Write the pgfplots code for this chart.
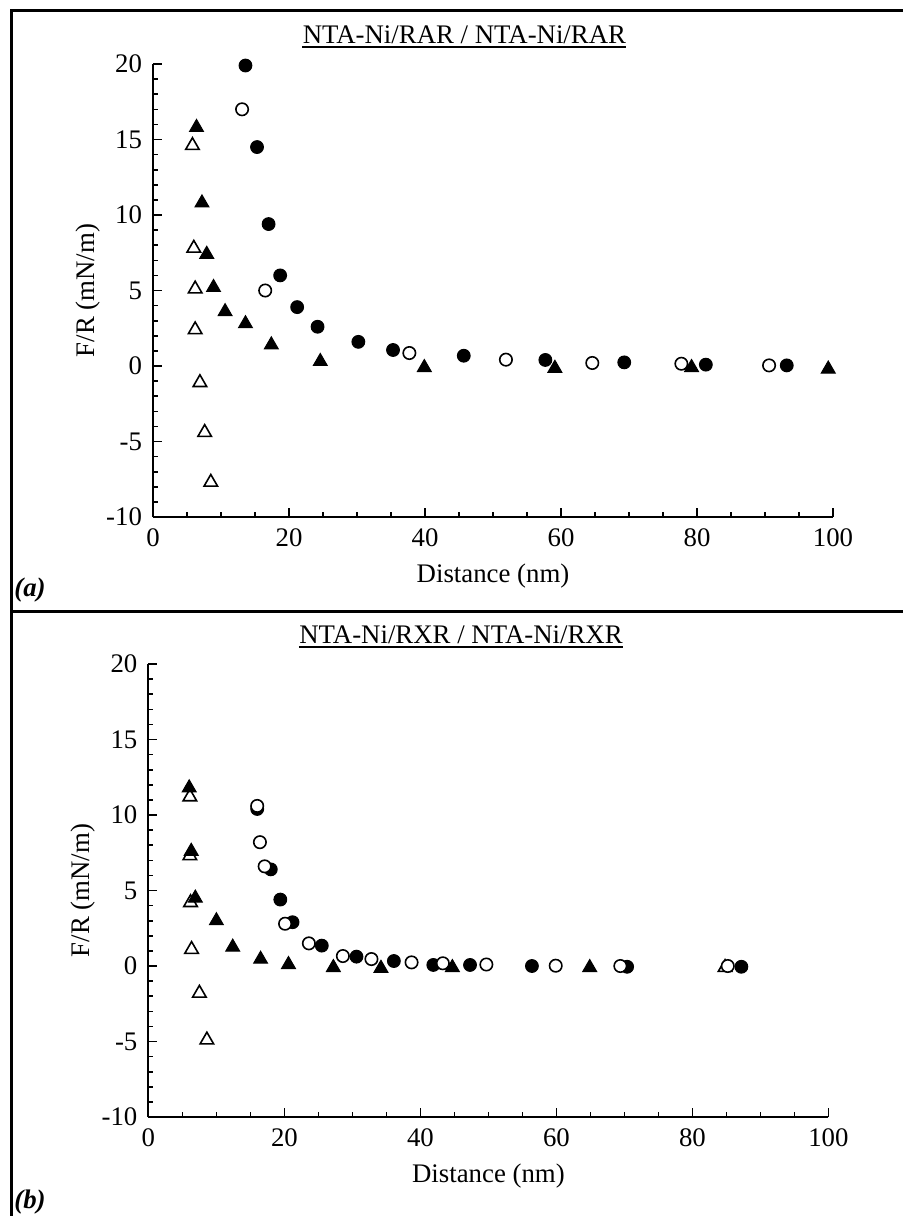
\documentclass[border=0pt]{standalone}
\usepackage{pgfplots}
\pgfplotsset{compat=1.18}
\usepackage{fontspec}
\setmainfont{Liberation Serif}
\newcommand{\ff}{\fontsize{13.4bp}{16bp}\selectfont}
\pgfplotsset{
  panel/.style={
    width=340bp, height=226.5bp, scale only axis,
    xmin=0, xmax=100, ymin=-10, ymax=20,
    axis lines*=left,
    xtick={0,20,40,60,80,100}, xticklabels={0,20,40,60,80,100},
    ytick={-10,-5,0,5,10,15,20}, yticklabels={-10,-5,0,5,10,15,20},
    minor x tick num=3, minor y tick num=4,
    tick align=inside,
    major tick length=4.5bp, minor tick length=2.5bp,
    axis line style={line width=1bp, black},
    every tick/.style={line width=0.8bp, black},
    tick label style={font=\ff},
    xticklabel style={yshift=-2.5bp},
    yticklabel style={xshift=-2bp},
    label style={font=\ff},
    xlabel={Distance (nm)},
    ylabel={F/R (mN/m)},
    xlabel style={at={(axis description cs:0.5,-0.13)}, anchor=center},
    ylabel style={at={(axis description cs:-0.0956,0.5)}, anchor=center},
    clip=false,
  },
  fc/.style={only marks, mark=*, mark size=3.2bp, mark options={fill=black, draw=black, line width=0.5bp}},
  oc/.style={only marks, mark=*, mark size=3.1bp, mark options={fill=white, draw=black, line width=0.8bp}},
  ft/.style={only marks, mark=triangle*, mark size=4bp, mark options={fill=black, draw=black, line width=0.5bp}},
  ot/.style={only marks, mark=triangle*, mark size=3.9bp, mark options={fill=white, draw=black, line width=0.8bp}},
}
\begin{document}
\begin{tikzpicture}
\path[use as bounding box] (0,0) rectangle (451.5bp,-608bp);
% frames
\draw[line width=1.5bp] (451.5bp,-5bp) -- (5.5bp,-5bp) -- (5.5bp,-608bp);
\draw[line width=1.5bp] (5.5bp,-305.5bp) -- (451.5bp,-305.5bp);
% titles
\node[inner sep=0, anchor=base, font=\ff] (ta) at (232.2bp,-21.5bp) {NTA-Ni/RAR / NTA-Ni/RAR};
\draw[line width=1.1bp] ([yshift=-2bp]ta.base west) -- ([yshift=-2bp]ta.base east);
\node[inner sep=0, anchor=base, font=\ff] (tb) at (230.5bp,-321.5bp) {NTA-Ni/RXR / NTA-Ni/RXR};
\draw[line width=1.1bp] ([yshift=-2bp]tb.base west) -- ([yshift=-2bp]tb.base east);
\node[inner sep=0, anchor=base west, font=\ff\bfseries\itshape] at (7bp,-298bp) {(a)};
\node[inner sep=0, anchor=base west, font=\ff\bfseries\itshape] at (7bp,-604bp) {(b)};

% ---------- panel (a)
\begin{axis}[panel, at={(76.5bp,-258.5bp)}, anchor=south west]
\addplot[ot] coordinates {(5.8,14.6) (6.0,7.8) (6.2,5.1) (6.2,2.4) (6.9,-1.1) (7.6,-4.4) (8.5,-7.7)};
\addplot[ft] coordinates {(6.4,15.8) (7.2,10.8) (7.9,7.4) (8.9,5.2) (10.6,3.6) (13.6,2.8) (17.4,1.4) (24.6,0.3) (39.9,-0.1) (59.1,-0.15) (79.2,-0.1) (99.3,-0.2)};
\addplot[fc] coordinates {(13.6,19.9) (15.3,14.5) (17.0,9.4) (18.7,6.0) (21.2,3.9) (24.2,2.6) (30.2,1.6) (35.3,1.06) (45.7,0.68) (57.7,0.4) (69.3,0.24) (81.3,0.09) (93.2,0.04)};
\addplot[oc] coordinates {(13.1,17.0) (16.5,5.0) (37.7,0.86) (51.9,0.42) (64.6,0.2) (77.7,0.15) (90.6,0.04)};
\end{axis}

% ---------- panel (b)
\begin{axis}[panel, at={(74.2bp,-558.5bp)}, anchor=south west]
\addplot[ot] coordinates {(6.1,11.2) (6.1,7.3) (6.2,4.2) (6.35,1.1) (7.5,-1.8) (8.6,-4.9) (84.8,-0.1)};
\addplot[ft] coordinates {(6.0,11.8) (6.3,7.6) (6.9,4.5) (10.0,3.0) (12.4,1.25) (16.5,0.45) (20.6,0.1) (27.2,-0.1) (34.2,-0.15) (44.7,-0.1) (64.9,-0.1)};
\addplot[fc] coordinates {(16.0,10.4) (18.0,6.4) (19.4,4.4) (21.2,2.9) (25.5,1.35) (30.6,0.62) (36.1,0.33) (41.9,0.07) (47.3,0.07) (56.4,0.0) (70.4,-0.05) (87.2,-0.05)};
\addplot[oc] coordinates {(16.0,10.6) (16.4,8.2) (17.1,6.6) (20.1,2.8) (23.6,1.5) (28.6,0.66) (32.8,0.46) (38.7,0.24) (43.3,0.18) (49.7,0.1) (59.9,0.02) (69.4,0.0) (85.2,0.0)};
\end{axis}
\end{tikzpicture}
\end{document}
